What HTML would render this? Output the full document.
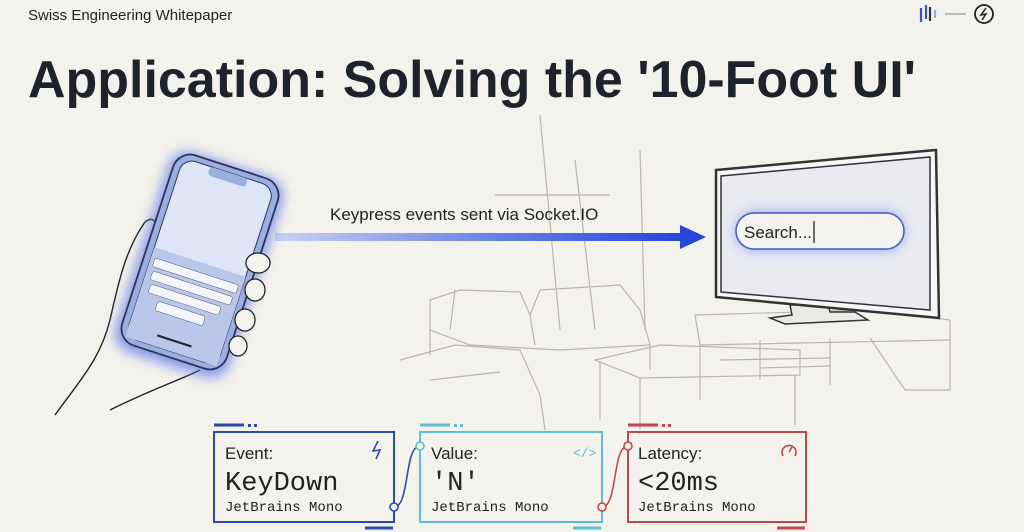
<!DOCTYPE html>
<html><head><meta charset="utf-8"><style>
html,body{margin:0;padding:0;background:#f4f2ec;}
body{width:1024px;height:532px;overflow:hidden;position:relative;font-family:"Liberation Sans",sans-serif;}
</style></head><body>
<svg width="1024" height="532" viewBox="0 0 1024 532" xmlns="http://www.w3.org/2000/svg" style="position:absolute;left:0;top:0">
<defs>
<linearGradient id="ag" x1="0" x2="1"><stop offset="0" stop-color="#c9d2f3"/><stop offset="0.5" stop-color="#6f86e8"/><stop offset="1" stop-color="#2546d8"/></linearGradient>
<filter id="glow" x="-30%" y="-30%" width="160%" height="160%"><feGaussianBlur stdDeviation="6"/></filter>
</defs>
<text x="28" y="20" font-size="15" fill="#222">Swiss Engineering Whitepaper</text>
<g stroke-width="2.2">
<line x1="921" y1="8" x2="921" y2="22" stroke="#2e54c8"/><line x1="926" y1="5" x2="926" y2="19" stroke="#2e54c8"/>
<line x1="930" y1="7" x2="930" y2="21" stroke="#333"/><line x1="935" y1="10" x2="935" y2="18" stroke="#8fb0e8"/>
</g>
<line x1="945" y1="14" x2="966" y2="14" stroke="#999" stroke-width="1.2"/>
<circle cx="984" cy="14" r="9" fill="none" stroke="#222" stroke-width="1.8"/>
<path d="M986 8 L981 15 L986 14 L982 20" fill="none" stroke="#222" stroke-width="1.5"/>
<text x="28" y="97" font-size="52" font-weight="bold" fill="#1e232b" textLength="888" lengthAdjust="spacingAndGlyphs">Application: Solving the '10-Foot UI'</text>

<g fill="none" stroke="#b9b6ae" stroke-width="1.2">
<path d="M540 115 L560 330 M575 160 L595 330 M495 195 L610 195 M640 150 L645 330"/>
<path d="M430 300 L460 290 L520 292 L530 315 L540 290 L620 285 L640 310 L650 345 L560 350 L470 345 L430 330 Z"/>
<path d="M455 290 L450 330 M530 315 L535 345 M430 330 L430 355 M650 345 L650 370"/>
<path d="M595 360 L660 345 L800 350 L800 375 L640 378 L595 360 Z M600 362 L600 420 M640 378 L640 430 M795 375 L795 425"/>
<path d="M400 360 L455 345 L520 350 L540 395 L545 430 M430 380 L500 372"/>
<path d="M695 315 L870 310 L950 320 L950 340 L700 345 Z M700 345 L700 400 M950 340 L950 390 M760 340 L760 380 M830 338 L830 385 M870 338 L905 390 L950 390"/>
<path d="M720 360 L830 358 M760 368 L830 366"/>
</g>
<text x="330" y="220" font-size="17" fill="#222">Keypress events sent via Socket.IO</text>
<rect x="275" y="233" width="408" height="8" fill="url(#ag)"/>
<path d="M680 225 L706 237 L680 249 Z" fill="#2546d8"/>

<path d="M790 305 L792 315 L770 318 L785 324 L868 320 L855 312 L830 312 L828 305 Z" fill="#eceae6" stroke="#333" stroke-width="1.5"/>
<path d="M716 170 L936 150 L939 318 L716 297 Z" fill="#f7f7f7" stroke="#333" stroke-width="2.5"/>
<path d="M721 176 L930 157 L930 310 L721 292 Z" fill="#e9ebf1" stroke="#333" stroke-width="1.5"/>
<rect x="736" y="212" width="168" height="38" rx="19" fill="#5875e6" filter="url(#glow)" opacity="0.6"/>
<rect x="736" y="213" width="168" height="36" rx="18" fill="#f4f3ef" stroke="#3f5bc9" stroke-width="1.5"/>
<text x="744" y="238" font-size="17" fill="#222">Search...</text>
<line x1="814" y1="221" x2="814" y2="243" stroke="#222" stroke-width="1.3"/>

<path d="M55 415 C80 380 100 360 110 320 C118 285 125 250 145 222 C155 214 160 225 152 245 L140 280" fill="none" stroke="#222" stroke-width="1.4"/>
<path d="M110 410 C150 390 180 380 200 370" fill="none" stroke="#222" stroke-width="1.4"/>
<g transform="rotate(18 200 262)">
<rect x="140" y="160" width="120" height="210" rx="20" fill="#5875e6" filter="url(#glow)" opacity="0.7"/>
<rect x="145" y="162" width="110" height="200" rx="18" fill="#9aaee0" stroke="#2a3560" stroke-width="1.8"/>
<rect x="152" y="168" width="96" height="188" rx="13" fill="#dde5f7" stroke="#2a3560" stroke-width="1"/>
<rect x="180" y="168" width="40" height="9" rx="4" fill="#9aaee0"/>
<rect x="152" y="262" width="96" height="94" fill="#b9c8ea"/>
<g fill="#f3f5fb" stroke="#556" stroke-width="0.5">
<rect x="156" y="272" width="88" height="9" rx="2"/><rect x="158" y="285" width="84" height="9" rx="2"/><rect x="160" y="298" width="74" height="9" rx="2"/>
<rect x="172" y="312" width="50" height="10" rx="2"/></g>
<line x1="182" y1="345" x2="218" y2="345" stroke="#223" stroke-width="2"/>
</g>
<g fill="#f4f2ec" stroke="#222" stroke-width="1.3">
<ellipse cx="258" cy="263" rx="12" ry="10"/><ellipse cx="255" cy="290" rx="10" ry="11"/><ellipse cx="245" cy="320" rx="10" ry="11"/><ellipse cx="238" cy="346" rx="9" ry="10"/>
</g>

<!-- card 1 -->
<rect x="214" y="432" width="180" height="90" fill="#f4f2ec" stroke="#2d48b0" stroke-width="2"/>
<line x1="214" y1="425" x2="244" y2="425" stroke="#2d48b0" stroke-width="3"/>
<rect x="248" y="424" width="3" height="3" fill="#2d48b0"/><rect x="254" y="424" width="3" height="3" fill="#2d48b0"/>
<line x1="365" y1="528" x2="393" y2="528" stroke="#2d48b0" stroke-width="3"/>
<text x="225" y="459" font-size="17" fill="#222">Event:</text>
<path d="M378 441 L373 451 L380 450 L376 459" fill="none" stroke="#2d48b0" stroke-width="1.6"/>
<text x="225" y="490" font-size="27" font-family="Liberation Mono,monospace" fill="#222">KeyDown</text>
<text x="225" y="511" font-size="14" font-family="Liberation Mono,monospace" fill="#222">JetBrains Mono</text>

<!-- card 2 -->
<rect x="420" y="432" width="182" height="90" fill="#f4f2ec" stroke="#5bbfcf" stroke-width="2"/>
<line x1="420" y1="425" x2="450" y2="425" stroke="#5bbfcf" stroke-width="3"/>
<rect x="454" y="424" width="3" height="3" fill="#5bbfcf"/><rect x="460" y="424" width="3" height="3" fill="#5bbfcf"/>
<line x1="573" y1="528" x2="601" y2="528" stroke="#5bbfcf" stroke-width="3"/>
<text x="431" y="459" font-size="17" fill="#222">Value:</text>
<text x="573" y="457" font-size="13" fill="#5bbfcf" font-family="Liberation Mono,monospace">&lt;/&gt;</text>
<text x="431" y="490" font-size="27" font-family="Liberation Mono,monospace" fill="#222">'N'</text>
<text x="431" y="511" font-size="14" font-family="Liberation Mono,monospace" fill="#222">JetBrains Mono</text>

<!-- card 3 -->
<rect x="628" y="432" width="178" height="90" fill="#f4f2ec" stroke="#c0474a" stroke-width="2"/>
<line x1="628" y1="425" x2="658" y2="425" stroke="#c0474a" stroke-width="3"/>
<rect x="662" y="424" width="3" height="3" fill="#c0474a"/><rect x="668" y="424" width="3" height="3" fill="#c0474a"/>
<line x1="777" y1="528" x2="805" y2="528" stroke="#c0474a" stroke-width="3"/>
<text x="638" y="459" font-size="17" fill="#222">Latency:</text>
<path d="M783 456 A7 7 0 1 1 795 456" fill="none" stroke="#c0474a" stroke-width="1.6"/>
<line x1="789" y1="452" x2="792" y2="447" stroke="#c0474a" stroke-width="1.6"/>
<text x="638" y="490" font-size="27" font-family="Liberation Mono,monospace" fill="#222">&lt;20ms</text>
<text x="638" y="511" font-size="14" font-family="Liberation Mono,monospace" fill="#222">JetBrains Mono</text>

<!-- connectors -->
<path d="M394 507 C410 507 404 446 420 446" fill="none" stroke="#2d48b0" stroke-width="1.6"/>
<circle cx="394" cy="507" r="4" fill="#f4f2ec" stroke="#2d48b0" stroke-width="1.6"/>
<circle cx="420" cy="446" r="4" fill="#f4f2ec" stroke="#5bbfcf" stroke-width="1.6"/>
<path d="M602 507 C618 507 612 446 628 446" fill="none" stroke="#c0474a" stroke-width="1.6"/>
<circle cx="602" cy="507" r="4" fill="#f4f2ec" stroke="#c0474a" stroke-width="1.6"/>
<circle cx="628" cy="446" r="4" fill="#f4f2ec" stroke="#c0474a" stroke-width="1.6"/>
</svg>
</body></html>
